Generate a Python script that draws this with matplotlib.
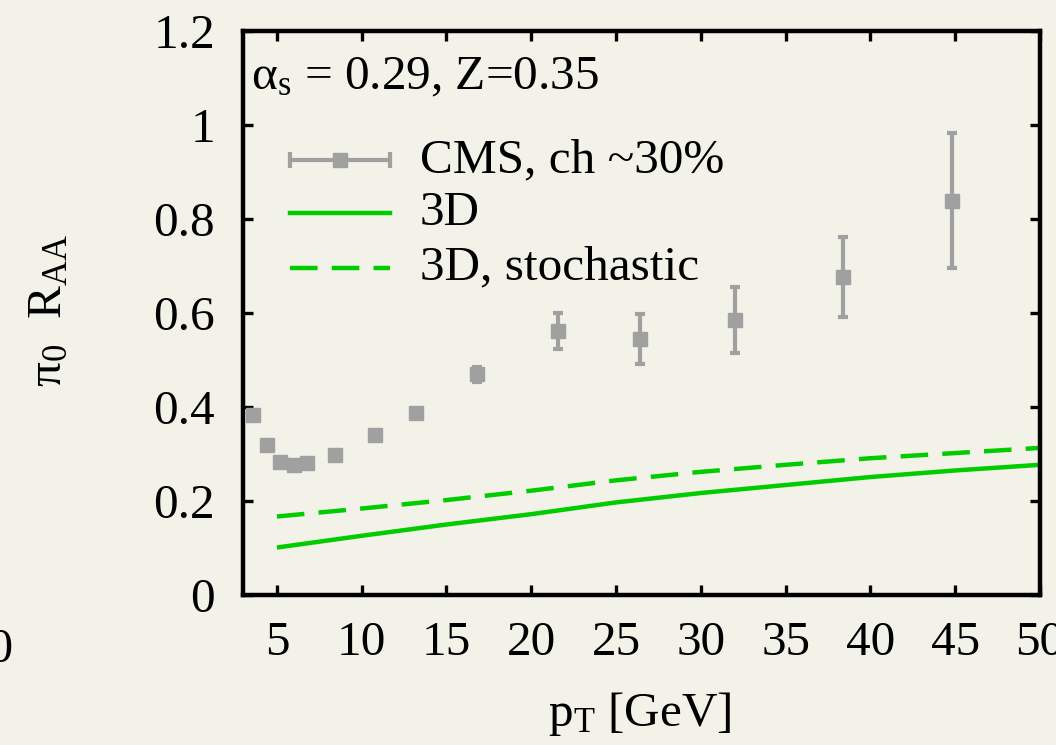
import matplotlib
matplotlib.use("Agg")
import matplotlib.pyplot as plt

# CMS charged hadrons, ~30% centrality
cms_pt = [3.6, 4.4, 5.2, 6.0, 6.8, 8.4, 10.8, 13.2, 16.8, 21.6, 26.4, 32.0, 38.4, 44.8]
cms_raa = [0.384, 0.319, 0.284, 0.277, 0.280, 0.297, 0.341, 0.388, 0.470, 0.562, 0.545, 0.585, 0.677, 0.839]
cms_err = [0.004, 0.004, 0.004, 0.004, 0.004, 0.004, 0.005, 0.008, 0.016, 0.038, 0.053, 0.070, 0.085, 0.143]

# model curves
pt = [5, 10, 15, 20, 25, 30, 35, 40, 45, 50]
raa_3d = [0.101, 0.126, 0.150, 0.172, 0.197, 0.217, 0.234, 0.251, 0.265, 0.277]
raa_3d_stoch = [0.167, 0.184, 0.202, 0.222, 0.244, 0.262, 0.277, 0.291, 0.302, 0.313]

BG = '#f2f2e8'
GRAY = '#a0a0a0'
GREEN = '#00cc00'
FS = 35.5

plt.rcParams['font.family'] = ['Liberation Serif', 'DejaVu Serif']
plt.rcParams['mathtext.fontset'] = 'custom'
plt.rcParams['mathtext.rm'] = 'Liberation Serif'
plt.rcParams['mathtext.it'] = 'Liberation Serif:italic'

fig = plt.figure(figsize=(10.56, 7.45), dpi=100, facecolor=BG)
ax = fig.add_axes([243 / 1056, 1 - 595 / 745, 797 / 1056, 564 / 745])
ax.set_facecolor(BG)

ax.plot(pt, raa_3d, color=GREEN, lw=3.2, solid_capstyle='butt')
ax.plot(pt, raa_3d_stoch, color=GREEN, lw=3.2, dashes=(6.2, 3.2))
ax.errorbar(cms_pt, cms_raa, yerr=cms_err, fmt='s', color=GRAY, ms=10.5,
            elinewidth=3, capsize=3.8, capthick=3, zorder=3)

ax.set_xlim(3, 50)
ax.set_ylim(0, 1.2)
ax.set_xticks([5, 10, 15, 20, 25, 30, 35, 40, 45, 50])
ax.set_yticks([0, 0.2, 0.4, 0.6, 0.8, 1.0, 1.2])
ax.set_yticklabels(['0', '0.2', '0.4', '0.6', '0.8', '1', '1.2'])
ax.tick_params(direction='in', top=True, right=True, length=7, width=2.4,
               labelsize=FS)
ax.tick_params(axis='x', pad=19)
ax.tick_params(axis='y', pad=20)
for s in ax.spines.values():
    s.set_linewidth(3.2)

ax.set_xlabel(r'p$_{\rm T}$ [GeV]', fontsize=FS)
ax.xaxis.set_label_coords(0.498, -0.168)
ax.set_ylabel(r'π$_0$  R$_{\rm AA}$', fontsize=FS)
ax.yaxis.set_label_coords(-0.215, 0.505)

ax.text(0.010, 0.917, r'α$_{\rm s}$ = 0.29, Z=0.35', transform=ax.transAxes,
        fontsize=FS, va='center', ha='left')

# legend drawn by hand, gnuplot style
lx0, lx1, tx = 0.059, 0.184, 0.222
rows = [0.771, 0.677, 0.580]
ax.plot([lx0, lx1], [rows[0], rows[0]], transform=ax.transAxes, color=GRAY, lw=3, clip_on=False)
ax.plot([lx0, lx1], [rows[0], rows[0]], transform=ax.transAxes, color=GRAY, lw=0,
        marker='|', ms=11, mew=3, clip_on=False)
ax.plot([(lx0 + lx1) / 2], [rows[0]], transform=ax.transAxes, color=GRAY, marker='s',
        ms=10.5, clip_on=False)
ax.plot([lx0, lx1], [rows[1], rows[1]], transform=ax.transAxes, color=GREEN, lw=3.2)
ax.plot([lx0, lx1], [rows[2], rows[2]], transform=ax.transAxes, color=GREEN, lw=3.2,
        dashes=(6.2, 3.2))
labels = ['CMS, ch ~30%', '3D', '3D, stochastic']
for y, lab in zip(rows, labels):
    ax.text(tx, y, lab, transform=ax.transAxes, fontsize=FS, va='center', ha='left')

# tick label of the neighbouring panel, cut by the frame
fig.text(13 / 1056, 1 - 662 / 745, '50', fontsize=FS, ha='right', va='baseline')

fig.savefig('out.png', dpi=100, facecolor=BG)
